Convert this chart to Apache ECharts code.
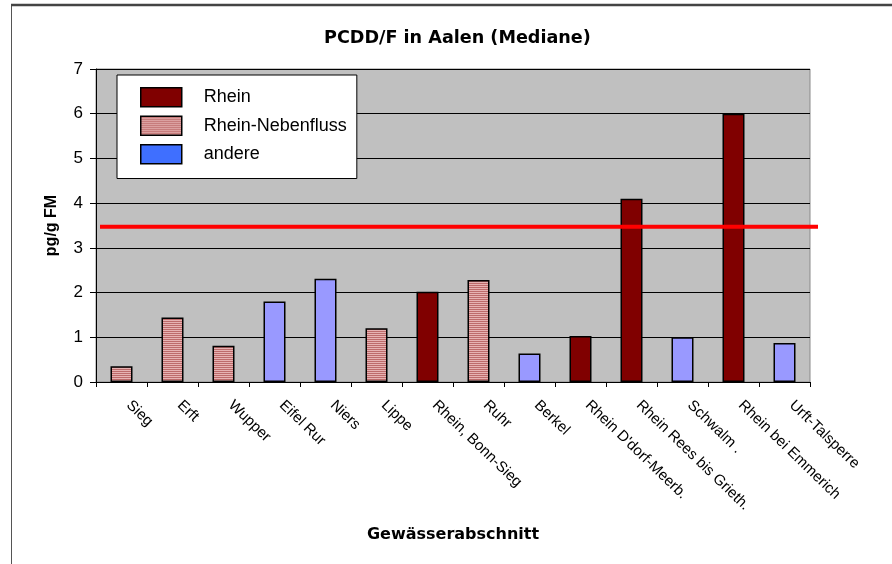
<!DOCTYPE html>
<html>
<head>
<meta charset="utf-8">
<script src="https://cdn.jsdelivr.net/npm/echarts@6/dist/echarts.min.js"></script>
<style>
  html, body { margin: 0; padding: 0; background: #fff; }
  #chart { width: 892px; height: 564px; }
</style>
</head>
<body>
<div id="chart"></div>
<script>
// Median PCDD/F levels in eel (pg/g fresh mass) per river section
const categories = [
  'Sieg', 'Erft', 'Wupper', 'Eifel Rur', 'Niers', 'Lippe', 'Rhein, Bonn-Sieg',
  'Ruhr', 'Berkel', "Rhein D'dorf-Meerb.", 'Rhein Rees bis Grieth.', 'Schwalm .',
  'Rhein bei Emmerich', 'Urft-Talsperre'
];
const rhein      = [null, null, null, null, null, null, 2.02, null, null, 1.03, 4.10, null, 6.00, null];
const nebenfluss = [0.35, 1.44, 0.81, null, null, 1.20, null, 2.28, null, null, null, null, null, null];
const andere     = [null, null, null, 1.80, 2.31, null, null, null, 0.64, null, null, 1.00, null, 0.87];
const grenzwert = 3.47;
const yTicks = [0, 7, 1]; // min, max, interval

const FONT = "'Liberation Sans', Arial, sans-serif";
const FONT_WIDE = "'DejaVu Sans', 'Liberation Sans', sans-serif";

// horizontal stripe fill for the tributary bars
function stripePattern() {
  const c = document.createElement('canvas');
  c.width = 4; c.height = 2;
  const g = c.getContext('2d');
  g.fillStyle = '#e6b2b2'; g.fillRect(0, 0, 4, 1);
  g.fillStyle = '#bd6b6b'; g.fillRect(0, 1, 4, 1);
  return c;
}
const stripes = { image: stripePattern(), repeat: 'repeat' };

const chart = echarts.init(document.getElementById('chart'), null, { renderer: 'canvas' });

const barBase = {
  type: 'bar',
  barWidth: 22,
  barGap: '-100%',
  itemStyle: { borderColor: '#000', borderWidth: 1.5 }
};

chart.setOption({
  animation: false,
  backgroundColor: '#fff',
  textStyle: { fontFamily: FONT },
  title: {
    text: 'PCDD/F in Aalen (Mediane)',
    left: 324, top: 29, padding: 0,
    textStyle: { fontFamily: FONT_WIDE, fontSize: 17.6, fontWeight: 'bold', color: '#000' }
  },
  legend: {
    orient: 'vertical',
    left: 117, top: 75,
    padding: [12, 10, 14, 23],
    icon: 'rect',
    itemWidth: 41, itemHeight: 19, itemGap: 8,
    backgroundColor: '#fff', borderColor: '#000', borderWidth: 1,
    textStyle: { fontFamily: FONT, fontSize: 18, color: '#000', padding: [0, 0, 0, 17] },
    data: [
      { name: 'Rhein', itemStyle: { color: '#800000', borderColor: '#000', borderWidth: 1.5 } },
      { name: 'Rhein-Nebenfluss', itemStyle: { color: stripes, borderColor: '#000', borderWidth: 1.5 } },
      { name: 'andere', itemStyle: { color: '#3f6fff', borderColor: '#000', borderWidth: 1.5 } }
    ]
  },
  grid: {
    left: 96, right: 82, top: 69, bottom: 182,
    show: true, backgroundColor: '#c0c0c0', borderColor: '#8a8a8a', borderWidth: 1
  },
  xAxis: {
    type: 'category',
    data: categories,
    boundaryGap: true,
    name: 'Gewässerabschnitt',
    nameLocation: 'middle',
    nameGap: 145,
    nameTextStyle: { fontFamily: FONT_WIDE, fontSize: 16, fontWeight: 'bold', color: '#000' },
    axisLine: { lineStyle: { color: '#000', width: 1 } },
    axisTick: { show: true, length: 5, lineStyle: { color: '#000' } },
    axisLabel: {
      interval: 0, rotate: -44, margin: 14, padding: [0, 0, 0, 10],
      fontFamily: FONT, fontSize: 15, color: '#000'
    },
    splitLine: { show: false }
  },
  yAxis: {
    type: 'value',
    min: yTicks[0], max: yTicks[1], interval: yTicks[2],
    name: 'pg/g FM',
    nameLocation: 'middle',
    nameRotate: 90,
    nameGap: 36,
    nameTextStyle: { fontFamily: FONT, fontSize: 16, fontWeight: 'bold', color: '#000' },
    axisLine: { show: true, lineStyle: { color: '#000', width: 1 } },
    axisTick: { show: true, length: 6, lineStyle: { color: '#000' } },
    axisLabel: { margin: 13, fontFamily: FONT, fontSize: 17, color: '#000' },
    splitLine: { show: true, lineStyle: { color: '#000', width: 1 } }
  },
  series: [
    Object.assign({}, barBase, { name: 'Rhein', data: rhein,
      itemStyle: Object.assign({}, barBase.itemStyle, { color: '#800000' }) }),
    Object.assign({}, barBase, { name: 'Rhein-Nebenfluss', data: nebenfluss,
      itemStyle: Object.assign({}, barBase.itemStyle, { color: stripes }) }),
    Object.assign({}, barBase, { name: 'andere', data: andere,
      itemStyle: Object.assign({}, barBase.itemStyle, { color: '#9999ff' }) })
  ]
});

// limit line and outer frame, placed through the value axis
const yLimit = chart.convertToPixel({ yAxisIndex: 0 }, grenzwert);
chart.setOption({
  graphic: [
    {
      type: 'rect', silent: true,
      shape: { x: 11.5, y: 5, width: 900, height: 600 },
      style: { fill: null, stroke: '#555', lineWidth: 1 }
    },
    {
      type: 'line', silent: true,
      shape: { x1: 11, y1: 5, x2: 892, y2: 5 },
      style: { stroke: '#444', lineWidth: 2.5 }
    },
    {
      type: 'line', silent: true, z: 100,
      shape: { x1: 100, y1: yLimit, x2: 818, y2: yLimit },
      style: { stroke: '#ff0000', lineWidth: 4 }
    }
  ]
});
</script>
</body>
</html>
